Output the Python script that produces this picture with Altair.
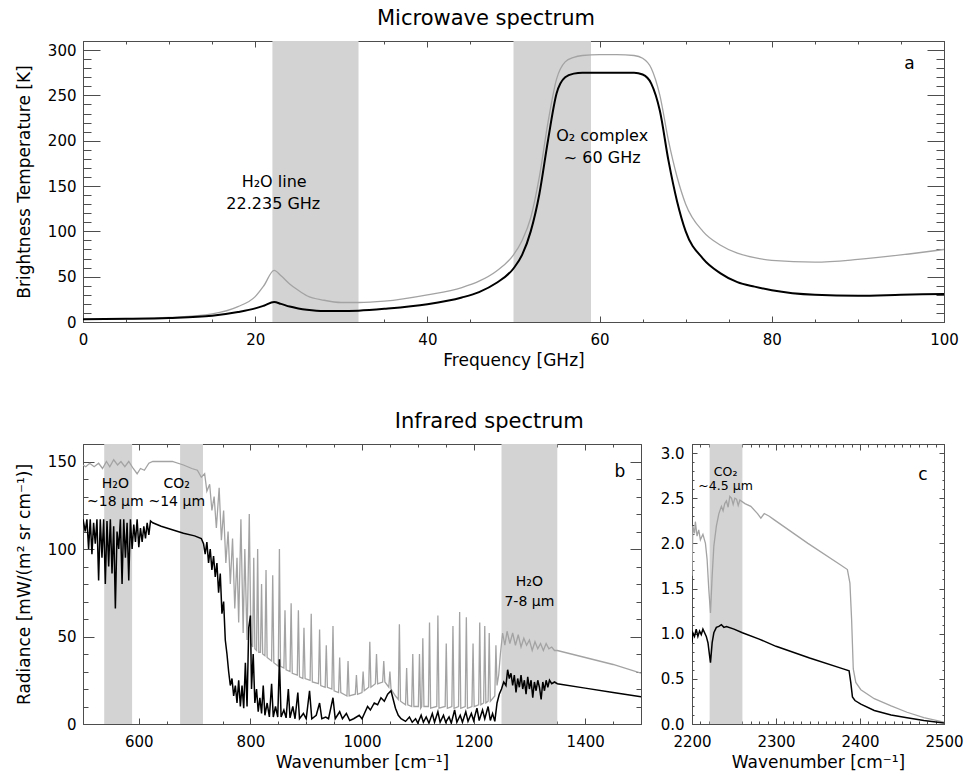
import altair as alt
import pandas as pd

FONT = "DejaVu Sans"
GRAY = "#a3a3a3"
BLACK = "#000000"
BAND = "#d3d3d3"
FRAME = "#4d4d4d"

# ---------------- panel a : microwave spectrum ----------------
mw_freq = [0, 5, 10, 15, 18, 20, 21, 22.2, 23, 24, 25, 26, 28, 30, 32, 35, 40, 44, 46, 48,
           50, 51, 52, 53, 54, 55, 56, 57, 58, 60, 62, 64, 65, 66, 67, 68, 69, 70, 72, 74,
           76, 78, 80, 85, 90, 95, 100]
mw_gray = [3, 3.5, 5, 9, 17, 28, 40, 57, 51, 42, 35, 29, 24, 21.5, 21.5, 23, 30, 38, 45, 56,
           74, 90, 115, 160, 220, 268, 287, 292, 294, 295, 295, 294, 291, 280, 250, 200, 160, 130, 100, 85,
           76, 71, 68, 66, 69, 74, 80]
mw_black = [3, 3.5, 4.5, 7, 11, 15, 18, 22, 20, 17, 15, 13.5, 12, 12, 12.5, 14.5, 19.5, 27, 33, 43,
            59, 74, 100, 141, 200, 252, 270, 274, 275, 275, 275, 275, 273, 263, 233, 178, 133, 100, 70, 54,
            44, 39, 35, 30, 29, 30, 31]
mw_band_lo = [22, 50]
mw_band_hi = [32, 59]
mw_text = ["H₂O line", "22.235 GHz", "O₂ complex", "~ 60 GHz"]
mw_text_x = [22.2, 22.1, 60.3, 60.3]
mw_text_y = [154, 130, 205, 181]
mw_title = "Microwave spectrum"
mw_title_x = 46.8
mw_title_y = 327.7

# ---------------- panel b : infrared 500-1500 ----------------
ir_gray_wn = [500, 505, 512, 520, 528, 535, 542, 548, 555, 562, 568, 575, 582, 590, 597, 603, 610, 618, 625, 640,
              660, 680, 695, 705, 712, 718, 722, 727, 731, 735, 739, 744, 748, 752, 756, 760, 764, 768, 772, 776,
              779, 783, 787, 790, 794, 798,
              801, 804, 806, 808, 811, 813, 815, 818, 820, 822,
              826, 828, 830, 838, 840, 842, 850, 852, 854, 860,
              862, 864, 871, 873, 875, 884, 886, 888, 894, 896,
              898, 907, 909, 911, 922, 924, 926, 934, 936, 938,
              946, 948, 950, 958, 960, 962, 973, 975, 977, 988,
              990, 992, 1000, 1002, 1004, 1012, 1014, 1016, 1024, 1026,
              1028, 1037, 1039, 1041, 1048, 1050, 1052, 1060, 1065, 1067,
              1069, 1078, 1080, 1082, 1089, 1091, 1093, 1101, 1103, 1105,
              1107, 1109, 1111, 1119, 1121, 1123, 1134, 1136, 1138, 1149,
              1151, 1153, 1161, 1163, 1165, 1173, 1175, 1177, 1185, 1187,
              1189, 1197, 1199, 1201, 1209, 1211, 1213, 1218, 1220, 1222,
              1226, 1228, 1230, 1238, 1240, 1242, 1245, 1248, 1252, 1256,
              1260, 1265, 1270, 1275, 1280, 1285, 1290, 1295, 1300, 1305,
              1310, 1315, 1320, 1325, 1330, 1335, 1340, 1345, 1350, 1400,
              1450, 1500]
ir_gray_rad = [148, 147, 149, 147, 149, 146, 150, 147, 151, 148, 150, 147, 150, 146, 143, 146, 145, 149, 150, 150,
               150, 148, 146, 145, 141, 143, 133, 137, 122, 130, 112, 135, 105, 122, 92, 110, 80, 106, 66, 95,
               58, 117, 52, 100, 48, 120,
               46, 44, 95, 43, 42, 100, 41, 41, 80, 40,
               39, 88, 38, 36, 85, 35, 33, 100, 33, 32,
               65, 31, 30, 69, 29, 28, 65, 27, 26, 55,
               26, 25, 63, 24, 23, 54, 22, 21, 45, 21,
               20, 56, 19, 18, 38, 18, 16, 36, 16, 17,
               28, 17, 18, 30, 19, 21, 47, 21, 23, 40,
               23, 24, 36, 24, 21, 30, 20, 16, 14, 57,
               13, 11, 32, 11, 10, 40, 10, 10, 40, 9,
               10, 49, 10, 10, 58, 9, 10, 62, 9, 10,
               46, 9, 10, 56, 9, 10, 64, 9, 10, 61,
               9, 10, 46, 10, 11, 58, 11, 12, 56, 12,
               13, 52, 13, 16, 45, 22, 28, 40, 52, 45,
               53, 46, 52, 45, 51, 44, 49, 45, 48, 42,
               47, 43, 46, 42, 46, 43, 44, 42, 42, 38,
               34, 29]
ir_black_wn = [500, 504, 507, 510, 513, 516, 519, 522, 525, 528, 531, 534, 537, 540, 543, 546, 549, 552, 555, 558,
               561, 564, 567, 570, 573, 576, 579, 582, 585, 588, 591, 594, 597, 600, 603, 606, 609, 612, 615, 618,
               621, 625, 640, 660, 680, 700, 712, 716, 719, 722, 725, 728, 731, 734, 737, 740, 743, 746, 749, 752,
               755, 758, 761, 764, 767, 770, 773, 776, 779, 782, 785, 788, 791, 794, 797, 800, 802, 805, 808, 811,
               814, 817, 820, 823, 826, 830, 834, 838, 841, 845, 849, 852, 855, 860, 864, 868, 871, 876, 880, 885,
               888, 895, 900, 906, 910, 918, 924, 928, 935, 940, 948, 952, 960, 965, 972, 978, 985, 995, 1000, 1010,
               1015, 1022, 1028, 1034, 1040, 1046, 1052, 1056, 1060, 1065, 1070, 1078, 1085, 1090, 1096, 1100, 1106, 1110, 1115, 1120,
               1126, 1130, 1136, 1140, 1146, 1150, 1156, 1160, 1166, 1170, 1176, 1180, 1186, 1190, 1196, 1200, 1206, 1210, 1216, 1220,
               1226, 1230, 1234, 1238, 1242, 1246, 1250, 1254, 1258, 1261, 1264, 1267, 1270, 1273, 1276, 1279, 1282, 1285, 1288, 1291,
               1294, 1297, 1300, 1303, 1306, 1309, 1312, 1315, 1318, 1321, 1324, 1327, 1330, 1333, 1336, 1340, 1345, 1350, 1400, 1450,
               1500]
ir_black_rad = [117, 110, 117, 100, 117, 97, 115, 103, 117, 82, 117, 95, 117, 80, 116, 90, 117, 86, 113, 66,
                110, 100, 117, 80, 117, 95, 115, 82, 117, 100, 114, 104, 117, 101, 112, 104, 113, 106, 115, 108,
                116, 115, 113, 111, 109, 107.5, 106, 103, 97, 104, 92, 100, 88, 96, 84, 92, 75, 86, 63, 70,
                48, 40, 30, 22, 26, 16, 22, 12, 25, 10, 22, 9, 35, 10, 55, 62, 20, 40, 12, 20,
                7, 15, 6, 22, 5, 12, 4, 23, 4, 10, 4, 37, 4, 8, 3.5, 20, 3.5, 10, 3, 18,
                3, 6, 3, 19, 3, 5, 12, 3, 4, 3, 15, 3, 7, 3, 6, 2, 3, 5, 3, 10,
                8, 12, 11, 15, 13, 17, 19, 14, 9, 5, 3, 1.5, 4, 1, 3, 0.5, 5, 1, 4, 0.5,
                6, 1, 7, 1, 5, 1, 4, 0.5, 8, 1, 5, 1, 7, 1.5, 6, 2, 9, 2, 8, 3,
                10, 2, 6, 1.5, 12, 17, 20, 24, 22, 31, 26, 29, 22, 28, 18, 26, 21, 28, 20, 25,
                17, 27, 20, 25, 15, 24, 19, 25, 21, 14, 24, 19, 25, 21, 25, 23, 24, 23, 20.5, 18,
                15.5]
ir_band_lo = [538, 674, 1250]
ir_band_hi = [588, 715, 1350]
ir_text = ["H₂O", "~18 μm", "CO₂", "~14 μm", "H₂O", "7-8 μm"]
ir_text_x = [558, 558, 668, 668, 1300, 1300]
ir_text_y = [137, 127, 137, 127, 81, 70]
ir_title = "Infrared spectrum"
ir_title_x = 1228
ir_title_y = 169

# ---------------- panel c : infrared 2200-2500 ----------------
sw_gray_wn = [2200, 2201, 2203, 2204, 2206, 2208, 2210, 2213, 2216, 2218, 2220, 2222, 2224, 2226, 2229, 2232,
              2235, 2237, 2239, 2241, 2243, 2245, 2247, 2249, 2251, 2253, 2255, 2257, 2263, 2270, 2278, 2282,
              2286, 2292, 2298, 2338, 2377, 2385, 2388, 2390, 2392, 2395, 2401, 2417, 2437, 2456, 2476, 2500]
sw_gray_rad = [1.64, 2.19, 2.11, 2.24, 2.08, 2.15, 2.04, 2.1, 2.0, 1.82, 1.49, 1.23, 1.64, 1.97, 2.19, 2.33,
               2.41, 2.36, 2.44, 2.47, 2.4, 2.52, 2.5, 2.43, 2.5, 2.49, 2.42, 2.48, 2.44, 2.41, 2.33, 2.28,
               2.33, 2.3, 2.26, 2.0, 1.76, 1.71, 1.56, 1.16, 0.61, 0.46, 0.38, 0.28, 0.2, 0.13, 0.07, 0.02]
sw_black_wn = [2200, 2201, 2203, 2205, 2207, 2209, 2211, 2213, 2215, 2217, 2219, 2221, 2222, 2224, 2226, 2229,
               2232, 2235, 2238, 2241, 2250, 2260, 2280, 2300, 2340, 2380, 2387, 2389, 2391, 2394, 2401, 2417,
               2437, 2456, 2476, 2500]
sw_black_rad = [0.9, 1.01, 0.97, 1.05, 0.97, 1.03, 0.99, 1.05, 1.01, 0.97, 0.9, 0.75, 0.68, 0.9, 1.01, 1.07,
                1.08, 1.1, 1.07, 1.08, 1.05, 1.01, 0.94, 0.86, 0.73, 0.61, 0.59, 0.46, 0.3, 0.26, 0.22, 0.15,
                0.1, 0.07, 0.04, 0.01]
sw_band_lo = [2221]
sw_band_hi = [2260]
sw_text = ["CO₂", "~4.5 μm"]
sw_text_x = [2240, 2240]
sw_text_y = [2.79, 2.64]

letters = ["a", "b", "c"]
letter_x = [96, 1462, 2475]
letter_y = [285, 144, 2.76]


def steps(lo, hi, step):
    out, v = [], lo
    while v <= hi + 1e-9:
        out.append(round(v, 4))
        v += step
    return out


def panel(gx, gy, bx, by, blo, bhi, tt, tx, ty, tsize, letter, lx, ly,
          xdom, ydom, w, h, xmaj, xmin, ymaj, ymin, xfmt, yfmt, xtitle, ytitle,
          xlen, ylen, ylabpad, ytitlepad, interp, bsw, title=None):
    xs = alt.Scale(domain=xdom, nice=False, zero=False)
    ys = alt.Scale(domain=ydom, nice=False, zero=False)
    gdf = pd.DataFrame({"x": gx, "y": gy})
    bdf = pd.DataFrame({"x": bx, "y": by})
    band_df = pd.DataFrame({"lo": blo, "hi": bhi})
    tdf = pd.DataFrame({"x": tx, "y": ty, "t": tt})
    ldf = pd.DataFrame({"x": [lx], "y": [ly], "t": [letter]})

    def tick_axis(orient, values, size):
        return alt.Axis(orient=orient, values=values, labels=False, title=None, ticks=True,
                        tickSize=size, offset=-size, domain=False, grid=False,
                        tickColor=FRAME, tickWidth=1)

    xlab = alt.Axis(orient="bottom", values=xmaj, format=xfmt, title=xtitle, ticks=False,
                    tickSize=0, domain=False, grid=False, labelPadding=10, titlePadding=5,
                    labelFlush=False, labelOverlap=False)
    ykw = dict(orient="left", values=ymaj, format=yfmt, ticks=False,
               tickSize=0, domain=False, grid=False, labelPadding=ylabpad,
               titlePadding=ytitlepad, labelOverlap=False)
    ylab = alt.Axis(title=ytitle, **ykw) if ytitle else alt.Axis(title=None, **ykw)

    def line(df, color, sw, xa, ya, opacity=1.0):
        return alt.Chart(df).mark_line(color=color, strokeWidth=sw, opacity=opacity,
                                       clip=True, interpolate=interp).encode(
            x=alt.X("x:Q", scale=xs, axis=xa),
            y=alt.Y("y:Q", scale=ys, axis=ya))

    band = alt.Chart(band_df).mark_rect(color=BAND).encode(
        x=alt.X("lo:Q", scale=xs, axis=None), x2="hi:Q")
    g = line(gdf, GRAY, 1.3, xlab, ylab)
    b = line(bdf, BLACK, bsw, tick_axis("bottom", xmaj, xlen), tick_axis("left", ymaj, ylen))
    i1 = line(bdf, BLACK, 1, tick_axis("top", xmaj, xlen), tick_axis("right", ymaj, ylen), 0)
    i2 = line(bdf, BLACK, 1, tick_axis("bottom", xmin, xlen // 2), tick_axis("left", ymin, ylen // 2), 0)
    i3 = line(bdf, BLACK, 1, tick_axis("top", xmin, xlen // 2), tick_axis("right", ymin, ylen // 2), 0)
    txt = alt.Chart(tdf).mark_text(font=FONT, fontSize=tsize, color="black", align="center",
                                   baseline="middle").encode(
        x=alt.X("x:Q", scale=xs, axis=None), y=alt.Y("y:Q", scale=ys, axis=None), text="t:N")
    let = alt.Chart(ldf).mark_text(font=FONT, fontSize=17, color="black", align="center",
                                   baseline="middle").encode(
        x=alt.X("x:Q", scale=xs, axis=None), y=alt.Y("y:Q", scale=ys, axis=None), text="t:N")
    layers = [band, g, b, i1, i2, i3, txt, let]
    if title is not None:
        tdf2 = pd.DataFrame({"x": [title[1]], "y": [title[2]], "t": [title[0]]})
        layers.append(alt.Chart(tdf2).mark_text(
            font=FONT, fontSize=21, color="black", align="center", baseline="alphabetic").encode(
            x=alt.X("x:Q", scale=xs, axis=None), y=alt.Y("y:Q", scale=ys, axis=None), text="t:N"))
    return alt.layer(*layers).resolve_axis(
        x="independent", y="independent").properties(width=w, height=h)


pa = panel(mw_freq, mw_gray, mw_freq, mw_black, mw_band_lo, mw_band_hi,
           mw_text, mw_text_x, mw_text_y, 16, letters[0], letter_x[0], letter_y[0],
           [0, 100], [0, 310], 861, 281,
           steps(0, 100, 20), steps(0, 100, 5), steps(0, 300, 50), steps(0, 310, 10),
           "d", "d", "Frequency [GHz]", "Brightness Temperature [K]",
           6, 17, 7, 14, "monotone", 2.0, (mw_title, mw_title_x, mw_title_y))

pb = panel(ir_gray_wn, ir_gray_rad, ir_black_wn, ir_black_rad, ir_band_lo, ir_band_hi,
           ir_text, ir_text_x, ir_text_y, 14, letters[1], letter_x[1], letter_y[1],
           [500, 1500], [0, 160], 558, 280,
           steps(600, 1400, 200), steps(500, 1500, 50), steps(0, 150, 50), steps(0, 160, 10),
           "d", "d", "Wavenumber [cm⁻¹]", "Radiance [mW/(m² sr cm⁻¹)]",
           6, 11, 7, 14, "linear", 1.5, (ir_title, ir_title_x, ir_title_y))

pc = panel(sw_gray_wn, sw_gray_rad, sw_black_wn, sw_black_rad, sw_band_lo, sw_band_hi,
           sw_text, sw_text_x, sw_text_y, 12.5, letters[2], letter_x[2], letter_y[2],
           [2200, 2500], [0, 3.1], 252, 280,
           steps(2200, 2500, 100), steps(2200, 2500, 10), steps(0, 3, 0.5), steps(0, 3.1, 0.1),
           "d", ".1f", "Wavenumber [cm⁻¹]", "",
           6, 5, 8, 10, "linear", 1.5)

bottom = alt.hconcat(pb, pc, spacing=51, bounds="flush")

chart = alt.vconcat(pa, bottom, spacing=122, bounds="flush").properties(
    padding={"left": 14, "top": 7, "right": 5, "bottom": 5},
).configure_axis(
    labelFont=FONT, labelFontSize=15, labelColor="black",
    titleFont=FONT, titleFontSize=17, titleFontWeight="normal", titleColor="black",
).configure_view(stroke=FRAME, strokeWidth=1)

chart.save("out.html", embed_options={"renderer": "svg", "actions": False})
